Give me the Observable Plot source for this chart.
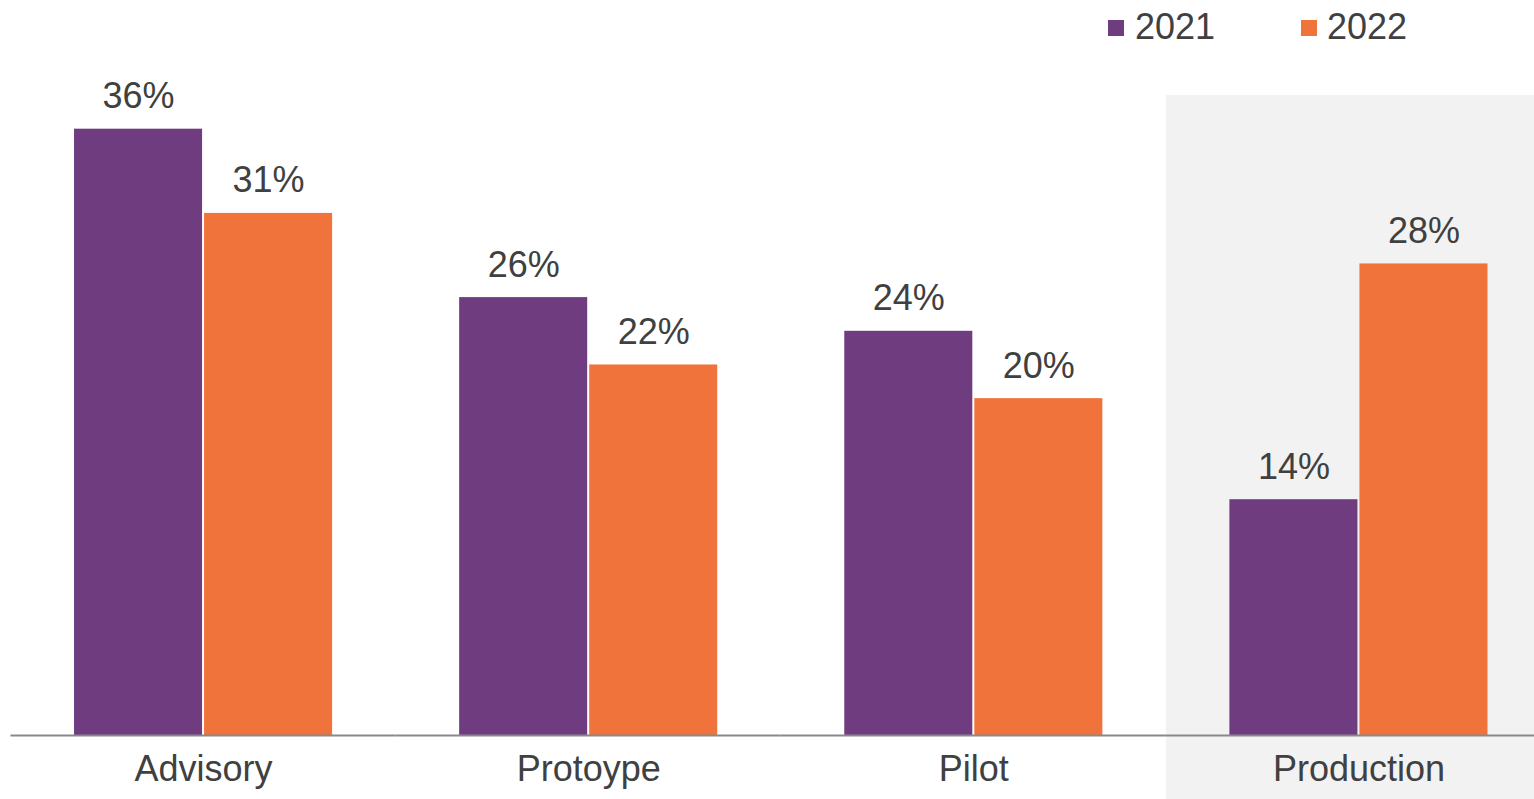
<!DOCTYPE html>
<html>
<head>
<meta charset="utf-8">
<script src="https://cdn.jsdelivr.net/npm/d3@7"></script>
<script src="https://cdn.jsdelivr.net/npm/@observablehq/plot@0.6"></script>
<style>
  html, body { margin: 0; padding: 0; background: #fff; overflow: hidden; }
  body { font-family: "Liberation Sans", Arial, sans-serif; color: #404040; }
  #wrap { position: relative; width: 1534px; height: 799px; overflow: hidden; }
  .leg { position: absolute; top: 9px; font-size: 36px; line-height: 36px; color: #404040; }
  .sw { position: absolute; width: 16px; height: 16px; top: 20px; }
  #chart { position: absolute; left: 0; top: 0; }
</style>
</head>
<body>
<div id="wrap">
  <div id="chart"></div>
  <div class="sw" style="left:1108px;background:#6f3c80"></div>
  <div class="leg" style="left:1135px">2021</div>
  <div class="sw" style="left:1301px;background:#ef733a"></div>
  <div class="leg" style="left:1327px">2022</div>
</div>
<script>
const categories = ["Advisory", "Protoype", "Pilot", "Production"];
const years = ["2021", "2022"];
const values2021 = [36, 26, 24, 14];
const values2022 = [31, 22, 20, 28];
const highlighted = ["Production"];
const colors = ["#6f3c80", "#ef733a"];

const data = [];
categories.forEach((c, i) => {
  data.push({category: c, year: years[0], value: values2021[i]});
  data.push({category: c, year: years[1], value: values2022[i]});
});

const chart = Plot.plot({
  width: 1551,
  height: 799,
  marginLeft: 10.5,
  marginRight: 0,
  marginTop: 95,
  marginBottom: 64,
  style: {maxWidth: "none", fontFamily: "Liberation Sans, Arial, sans-serif", color: "#404040", background: "transparent"},
  fx: {domain: categories, padding: 0, round: false, label: null},
  x: {domain: years, paddingInner: 2 / 130, paddingOuter: 0.4885, round: false, axis: null},
  y: {domain: [0, 38], axis: null},
  color: {domain: years, range: colors},
  marks: [
    Plot.rect(highlighted, {fx: d => d, fill: "#f2f2f2", insetBottom: -64}),
    Plot.barY(data, {fx: "category", x: "year", y: "value", fill: "year"}),
    Plot.ruleY([0], {stroke: "#898989", strokeWidth: 2}),
    Plot.text(data, {fx: "category", x: "year", y: "value", text: d => d.value + "%", lineAnchor: "bottom", dy: -21, fontSize: 36, fill: "#404040"}),
    Plot.axisFx({anchor: "bottom", tickSize: 0, tickPadding: 20, fontSize: 36, label: null, color: "#404040"})
  ]
});
document.getElementById("chart").appendChild(chart);
</script>
</body>
</html>
